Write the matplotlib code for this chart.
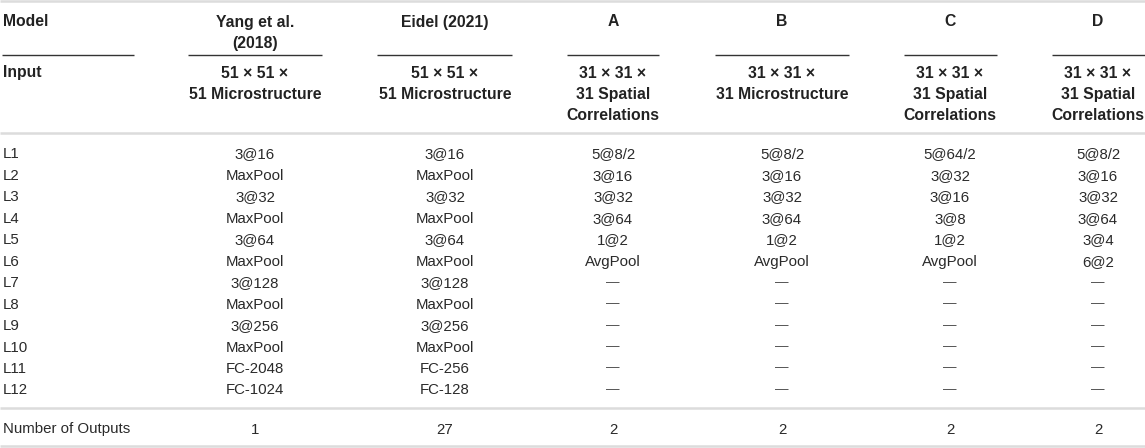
import matplotlib.pyplot as plt

plt.rcParams["font.family"] = ["Liberation Sans", "DejaVu Sans"]

# table content
models = ["Yang et al.\n(2018)", "Eidel (2021)", "A", "B", "C", "D"]
inputs = [
    "51 × 51 ×\n51 Microstructure",
    "51 × 51 ×\n51 Microstructure",
    "31 × 31 ×\n31 Spatial\nCorrelations",
    "31 × 31 ×\n31 Microstructure",
    "31 × 31 ×\n31 Spatial\nCorrelations",
    "31 × 31 ×\n31 Spatial\nCorrelations",
]
layer_names = ["L1", "L2", "L3", "L4", "L5", "L6", "L7", "L8", "L9", "L10", "L11", "L12"]
DASH = "—"
layers = {
    "Yang": ["3@16", "MaxPool", "3@32", "MaxPool", "3@64", "MaxPool",
             "3@128", "MaxPool", "3@256", "MaxPool", "FC-2048", "FC-1024"],
    "Eidel": ["3@16", "MaxPool", "3@32", "MaxPool", "3@64", "MaxPool",
              "3@128", "MaxPool", "3@256", "MaxPool", "FC-256", "FC-128"],
    "A": ["5@8/2", "3@16", "3@32", "3@64", "1@2", "AvgPool"] + [DASH] * 6,
    "B": ["5@8/2", "3@16", "3@32", "3@64", "1@2", "AvgPool"] + [DASH] * 6,
    "C": ["5@64/2", "3@32", "3@16", "3@8", "1@2", "AvgPool"] + [DASH] * 6,
    "D": ["5@8/2", "3@16", "3@32", "3@64", "3@4", "6@2"] + [DASH] * 6,
}
n_outputs = ["1", "27", "2", "2", "2", "2"]

# layout (pixels)
W, H = 1145, 448
col_x = [255, 445, 613, 782, 950, 1098]
underlines = [(2, 134), (188, 322), (377, 512), (567, 659), (715, 849), (904, 997), (1052, 1145)]
row_y0, row_dy = 153, 21.45
hdr_dy = 21.5
base_off = 5.5  # centre of caps -> baseline
TEXT = "#222222"
GRAY_LINE = "#dcdcdc"

fig = plt.figure(figsize=(W / 100, H / 100), dpi=100)
ax = fig.add_axes([0, 0, 1, 1])
ax.set_xlim(0, W)
ax.set_ylim(H, 0)
ax.axis("off")

fs = 10.8
fs_hdr = 11.3
hdr = dict(fontsize=fs_hdr, fontweight="bold", color=TEXT, va="baseline")
body = dict(fontsize=fs, color="#2a2a2a", va="baseline")


def multiline(x, y, txt, ha):
    for k, line in enumerate(txt.split("\n")):
        ax.text(x, y + k * hdr_dy + base_off, line, ha=ha, **hdr)


# gray rules
for y in [1, 133, 408, 446.5]:
    ax.plot([0, W], [y, y], color=GRAY_LINE, lw=1.8, solid_capstyle="butt")

# header row
multiline(3, 21, "Model", "left")
for x, name in zip(col_x, models):
    multiline(x, 21, name, "center")
for x0, x1 in underlines:
    ax.plot([x0, x1], [55, 55], color="#333333", lw=1.0, solid_capstyle="butt")

# input row
multiline(3, 72, "Input", "left")
for x, txt in zip(col_x, inputs):
    multiline(x, 72, txt, "center")

# layer rows
keys = ["Yang", "Eidel", "A", "B", "C", "D"]
for i, name in enumerate(layer_names):
    y = row_y0 + i * row_dy + base_off
    ax.text(3, y, name, ha="left", **body)
    for x, k in zip(col_x, keys):
        val = layers[k][i]
        if val == DASH:
            ax.text(x, y - base_off, val, ha="center", va="center",
                    fontsize=fs * 0.9, color="#555555")
        else:
            ax.text(x, y, val, ha="center", **body)

# outputs row
ax.text(3, 428 + base_off, "Number of Outputs", ha="left", **body)
for x, v in zip(col_x, n_outputs):
    ax.text(x, 428 + base_off, v, ha="center", **body)

fig.savefig("out.png", dpi=100, facecolor="white")
